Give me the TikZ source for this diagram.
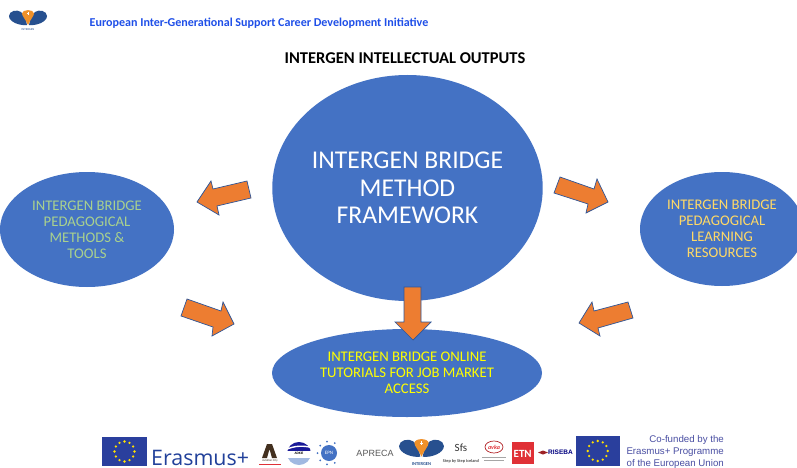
\documentclass[tikz,border=0pt]{standalone}
\usepackage{fontspec}
\setmainfont{Carlito}
\newfontfamily\arialf{Liberation Sans}
\newfontfamily\erasf{Open Sans}
\usetikzlibrary{shapes.geometric}
\definecolor{blueE}{HTML}{4472C4}
\definecolor{orangeA}{HTML}{ED7D31}
\definecolor{edgeA}{HTML}{2F5597}
\definecolor{headB}{HTML}{1F4FE8}
\definecolor{greenT}{HTML}{A9D18E}
\definecolor{goldT}{HTML}{FFD966}
\definecolor{yellowT}{HTML}{FFFF00}
\definecolor{euB}{HTML}{2A3F9D}
\definecolor{euY}{HTML}{FFE000}
\definecolor{leafB}{HTML}{27508F}
\definecolor{cofund}{HTML}{4A4FA3}
\definecolor{erasB}{HTML}{21409A}
\definecolor{etnR}{HTML}{E03036}
\definecolor{archB}{HTML}{43301F}
\tikzset{
  bubble/.style={ellipse,fill=blueE,draw=none,inner sep=0pt,align=center},
  blockarrow/.style={fill=orangeA,draw=edgeA,line width=0.7pt,line join=miter},
  tiny/.style={inner sep=0pt,font=\fontsize{3}{3}\selectfont}
}
\newcommand{\euflag}[4]{% x y width height
  \begin{scope}[shift={(#1,#2)}]
    \fill[euB] (0,0) rectangle (#3,#4);
    \foreach \a in {0,30,...,330}
      \fill[euY] ({#3/2+10*cos(\a)},{#4/2+10*sin(\a)}) circle (1.3);
  \end{scope}}
\newcommand{\glogo}[3]{% centre x, top y, scale
  \begin{scope}[shift={(#1,#2)},scale=#3]
    \fill[leafB] (-1,15) .. controls (-8,16) and (-19,12) .. (-19,6) .. controls (-19,1) and (-11,-1) .. (-7,2) .. controls (-3,5) and (-2,10) .. (-1,15) -- cycle;
    \fill[leafB] (1,15) .. controls (8,16) and (19,12) .. (19,6) .. controls (19,1) and (11,-1) .. (7,2) .. controls (3,5) and (2,10) .. (1,15) -- cycle;
    \fill[orangeA!85!yellow] (0,15) .. controls (-2,10) and (-6,6) .. (-6,3.5) .. controls (-6,-1) and (6,-1) .. (6,3.5) .. controls (6,6) and (2,10) .. (0,15) -- cycle;
    \fill[white] (-0.3,2) rectangle (0.3,5);
    \fill[white] (-1.3,3.2) rectangle (1.3,3.8);
  \end{scope}}
\begin{document}
\begin{tikzpicture}[x=1pt,y=-1pt]
\useasboundingbox (0,0) rectangle (797,468);
\fill[white] (0,0) rectangle (797,468);
% header
\glogo{28}{10}{1}
\node[tiny,text=leafB] (logoA) at (28,30) {INTERGEN};
\node[inner sep=0pt,text=headB,font=\fontsize{12.05}{14}\selectfont\bfseries] (head) at (259,23) {European Inter-Generational Support Career Development Initiative};
\node[inner sep=0pt,text=black,font=\fontsize{16.5}{18}\selectfont\bfseries] (title) at (405,58) {INTERGEN INTELLECTUAL OUTPUTS};
% bubbles
\begin{scope}
\clip (0,0) rectangle (797,468);
\node[bubble,minimum width=269pt,minimum height=226pt,text=white,font=\fontsize{25.6}{27.5}\selectfont] (main) at (407.5,188) {INTERGEN BRIDGE\\METHOD\\FRAMEWORK};
\node[bubble,minimum width=174pt,minimum height=115pt,text=greenT,font=\fontsize{14.7}{16}\selectfont] (left) at (87,229.5) {INTERGEN BRIDGE\\PEDAGOGICAL\\METHODS \&\\TOOLS};
\node[bubble,minimum width=164pt,minimum height=114pt,text=goldT,font=\fontsize{14.7}{16}\selectfont] (right) at (722,229) {INTERGEN BRIDGE\\PEDAGOGICAL\\LEARNING\\RESOURCES};
\node[bubble,minimum width=270pt,minimum height=88pt,text=yellowT,font=\fontsize{14.7}{16}\selectfont] (bottom) at (407,373) {INTERGEN BRIDGE ONLINE\\TUTORIALS FOR JOB MARKET\\ACCESS};
\end{scope}
% block arrows
\draw[blockarrow] (197,202) -- (211,181) -- (213,189) -- (247,181) -- (251,198) -- (217,206) -- (219,215) -- cycle;
\draw[blockarrow] (608,202) -- (597,179) -- (594,189) -- (560,177) -- (554,193) -- (588,204) -- (586,213) -- cycle;
\draw[blockarrow] (234,324) -- (223,302) -- (221,311) -- (187,299) -- (181,316) -- (213,327) -- (212,336) -- cycle;
\draw[blockarrow] (579,323) -- (592,302) -- (594,311) -- (628,302) -- (633,318) -- (598,328) -- (600,336) -- cycle;
\draw[blockarrow] (413,340) -- (395,322) -- (404,322) -- (404,287) -- (421,287) -- (421,322) -- (431,322) -- cycle;
% footer logos
\euflag{102}{437}{45}{29}
\node[inner sep=0pt,anchor=base west,text=erasB,font=\fontsize{21.4}{23}\selectfont\erasf] (eras) at (151,465.5) {Erasmus+};
% arch
\fill[archB] (262,458) -- (267,444) -- (272,444) -- (277,458) -- (272,458) -- (269.5,449) -- (267,458) -- cycle;
\node[tiny,text=archB] (adv) at (270,460.5) {Aviation City};
\fill[etnR] (259,463.5) rectangle (281,464.5);
% striped globe
\begin{scope}[shift={(299,453.5)}]
  \begin{scope}
    \clip (0,0) ellipse (12 and 11.5);
    \fill[blue!55!black!90] (-13,-12) rectangle (13,-3);
    \fill[blueE!50] (-13,4) rectangle (13,12);
  \end{scope}
  \draw[white,line width=1.4pt] (-13,-4) .. controls (-4,-8) and (4,-8) .. (13,-6);
\end{scope}
\node[tiny,text=black,font=\fontsize{3.5}{4}\selectfont\bfseries] (adeie) at (299,453) {ADKIE};
% EPN
\fill[blueE] (329,453) circle (8);
\foreach \a in {60,100,...,300} \fill[blueE] ({329+11.5*cos(\a)},{453+11.5*sin(\a)}) circle (1);
\node[tiny,text=white,font=\fontsize{5}{5}\selectfont] (epn) at (329,453) {EPN};
\node[inner sep=0pt,text=black!65,font=\fontsize{9}{10}\selectfont\arialf] (apreca) at (375,453) {APRECA};
% second logo
\glogo{421.5}{439}{1.18}
\node[tiny,text=leafB,font=\fontsize{4.5}{5}\selectfont\bfseries] (logoB) at (421.5,464) {INTERGEN};
% Sfs
\node[inner sep=0pt,text=black!80,font=\fontsize{11}{12}\selectfont] (sfs) at (461,448) {Sfs};
\node[tiny,text=black!70,font=\fontsize{4.3}{5}\selectfont\bfseries] (sfsb) at (461,461) {Step by Step Iceland};
% avka
\draw[etnR!80!black,line width=0.7pt] (494,447) ellipse (9 and 6);
\node[tiny,text=etnR,font=\fontsize{6}{6}\selectfont\bfseries\itshape] (avka) at (494,447) {avka};
\fill[black!35] (482,457) rectangle (506,458);
\fill[black!35] (484,459.5) rectangle (504,460.5);
% ETN
\fill[etnR] (512,442) rectangle (533.5,464);
\node[inner sep=0pt,text=white,font=\fontsize{11}{11}\selectfont\bfseries] (etn) at (522.7,453.5) {ETN};
% RISEBA
\fill[etnR!70!black] (538,452.5) -- (543,450.5) -- (548,452.5) -- (543,454.5) -- cycle;
\node[inner sep=0pt,text=blue!50!black,font=\fontsize{6.5}{7}\selectfont\bfseries\arialf] (riseba) at (560.5,452.5) {RISEBA};
\euflag{576}{436}{43.5}{30}
\node[inner sep=0pt,anchor=east,align=right,text=cofund,font=\fontsize{9.7}{11.6}\selectfont\arialf] (cofunded) at (724,452) {Co-funded by the\\Erasmus+ Programme\\of the European Union};
\end{tikzpicture}
\end{document}
